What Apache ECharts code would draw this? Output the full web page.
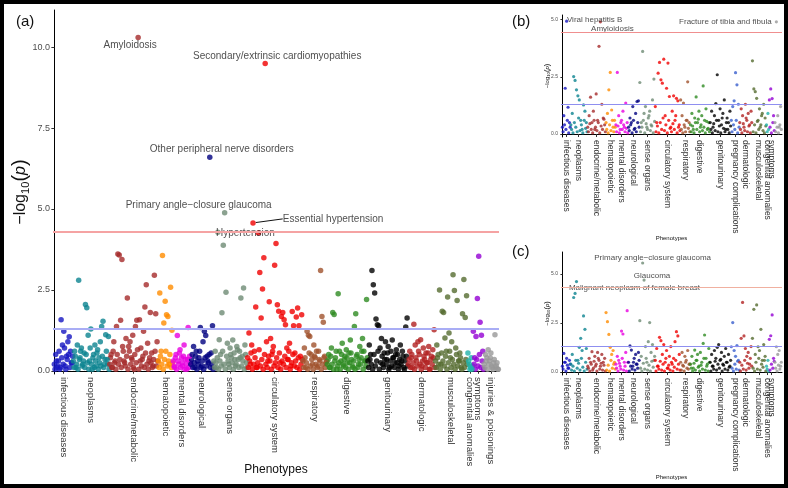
<!DOCTYPE html>
<html>
<head>
<meta charset="utf-8">
<script src="https://cdn.jsdelivr.net/npm/echarts@6/dist/echarts.min.js"></script>
<style>
  html, body { margin: 0; padding: 0; background: #fff; }
  #wrap { position: relative; width: 788px; height: 488px; }
  #chart { position: absolute; left: 0; top: 0; width: 788px; height: 488px; }
  #frame { position: absolute; left: 0; top: 0; width: 788px; height: 488px; box-sizing: border-box;
           border: 4px solid #000; pointer-events: none; }
</style>
</head>
<body>
<div id="wrap"><div id="chart"></div><div id="frame"></div></div>
<script>
const categories = ['infectious diseases', 'neoplasms', 'endocrine/metabolic', 'hematopoietic',
  'mental disorders', 'neurological', 'sense organs', 'circulatory system', 'respiratory',
  'digestive', 'genitourinary', 'pregnancy complications', 'dermatologic', 'musculoskeletal',
  'congenital anomalies', 'symptoms', 'injuries & poisonings'];
const catColors = ['#1515c0', '#0b8390', '#a52a2a', '#ff8c00', '#e800e0', '#000080', '#6e8b74',
  '#f00000', '#a0522d', '#2e8b22', '#000000', '#3a5fcd', '#b22222', '#556b2f', '#20b2aa',
  '#9400d3', '#999999'];

// panel (a): -log10(p) per phenotype, in plotting order within each category
const infA = [0.2, 0.5, 0.1, 0.3, 0.05, 1.58, 0.8, 1.22, 0.15, 0.45, 0.9, 1.05, 0.6, 0.25];
const neoA = [0.3, 0.6, 0.1, 0.8, 2.8, 0.4, 0.7, 0.2, 0.55, 2.05, 1.95, 1.1, 0.3, 1.29, 0.05, 0.5, 0.8, 0.15, 0.65, 0.4, 0.9, 1.37, 1.53, 0.2, 1.11, 0.35, 1.06];
const endoA = [0.2, 0.5, 0.1, 0.9, 0.3, 1.37, 3.61, 3.58, 1.56, 3.44, 0.6, 0.25, 1.0, 2.25, 0.75, 0.9, 0.4, 1.1, 0.05, 1.37, 1.56, 10.3, 1.58, 0.7, 0.35, 1.22, 1.97, 2.66, 0.85, 0.3, 1.8, 0.55, 0.15, 2.95, 1.76, 0.9];
const hemA = [0.3, 2.4, 0.6, 3.56, 1.48, 2.15, 1.73, 1.68, 0.2, 2.58, 1.25];
const menA = [0.3, 0.1, 0.5, 1.09, 0.2, 0.65, 0.4, 0.15, 0.8, 0.35, 0.05, 1.34, 0.45];
const neuA = [0.2, 0.5, 0.75, 0.1, 0.6, 0.3, 0.4, 1.34, 0.15, 0.9, 1.22, 1.09, 0.45, 0.25, 6.6, 0.55, 1.39];
const senA = [0.3, 0.6, 0.1, 4.28, 0.96, 0.5, 1.79, 3.88, 4.88, 2.43, 0.85, 0.2, 0.7, 0.4, 0.95, 0.55, 0.15, 0.75, 0.35, 0.6, 2.25, 0.45, 2.56, 0.8, 0.25];
const circA = [0.4, 1.17, 0.2, 0.8, 4.57, 0.6, 1.97, 0.1, 4.26, 3.04, 1.63, 2.53, 3.49, 9.5, 0.9, 0.3, 2.13, 1.0, 0.5, 0.75, 3.26, 3.93, 2.04, 1.84, 0.25, 1.68, 1.8, 1.58, 1.42, 0.7, 0.35, 0.85, 0.15, 1.83, 1.39, 0.55, 1.66, 1.94, 1.39, 0.45, 1.73];
const respA = [0.3, 0.7, 0.1, 1.22, 1.1, 1.06, 0.5, 0.2, 0.8, 0.4, 0.6, 0.15, 0.35, 3.1, 1.68, 1.5, 0.45, 0.25];
const digA = [0.2, 0.5, 0.1, 0.7, 1.8, 1.74, 0.4, 0.05, 2.38, 0.6, 0.3, 0.85, 0.15, 0.45, 0.65, 0.25, 0.55, 0.95, 0.35, 0.1, 1.37, 1.76, 0.5, 0.2, 0.75, 0.4, 1.0, 0.6, 0.3, 2.2];
const genA = [0.3, 0.8, 0.5, 3.1, 2.66, 2.4, 1.6, 1.42, 1.39, 0.7, 1.0, 0.2, 0.55, 0.9, 0.35, 0.75, 0.1, 0.6, 0.95, 0.4, 0.25, 0.65, 0.5, 0.15, 0.8, 0.3, 0.45, 0.05, 1.35, 1.63];
const pregA = [];
const dermA = [0.2, 0.6, 0.4, 0.1, 1.44, 0.8, 0.3, 0.9, 0.5, 0.96, 0.15, 0.7, 0.35, 0.55, 0.25, 0.75, 0.05, 0.45, 0.65, 1.27];
const muscA = [0.3, 0.8, 0.5, 2.5, 0.2, 1.84, 1.8, 1.01, 0.6, 2.28, 1.17, 0.4, 0.9, 2.97, 2.48, 0.7, 2.17, 0.3, 0.55, 0.1, 1.76, 2.82, 1.65, 2.32];
const congA = [0.55, 0.2, 0.1, 0.05];
const sympA = [1.22, 0.4, 1.06, 2.23, 3.54, 1.5, 1.1, 0.6];
const injA = [0.2, 0.5, 0.4, 0.65, 0.3, 0.55, 0.1, 0.25, 1.11, 0.15, 0.05];
// panel (a): the dense band of near-null phenotypes, sitting between the ones above
const infA2 = [0.05, 0.3, 0.15, 0.6, 0.1, 0.4, 0.2, 0.7, 0.05, 0.35, 0.5, 0.1, 0.25, 0.45];
const neoA2 = [0.1, 0.45, 0.2, 0.05, 0.35, 0.6, 0.15, 0.3, 0.1, 0.5, 0.25, 0.05, 0.7, 0.2, 0.4, 0.1, 0.3, 0.55, 0.05, 0.25, 0.15, 0.45, 0.1, 0.35, 0.6, 0.2, 0.05];
const endoA2 = [0.4, 0.1, 0.6, 0.25, 0.05, 0.5, 0.2, 0.35, 0.1, 0.75, 0.3, 0.15, 0.45, 0.05, 0.6, 0.2, 0.35, 0.1, 0.5, 0.25, 0.65, 0.05, 0.3, 0.15, 0.45, 0.1, 0.55, 0.2, 0.05, 0.4, 0.25, 0.1, 0.35, 0.6, 0.15, 0.3];
const hemA2 = [0.1, 0.45, 0.2, 0.05, 0.35, 0.6, 0.15, 0.3, 0.5, 0.1, 0.25];
const menA2 = [0.15, 0.4, 0.05, 0.3, 0.55, 0.1, 0.25, 0.45, 0.05, 0.2, 0.35, 0.1, 0.25];
const neuA2 = [0.35, 0.1, 0.25, 0.45, 0.05, 0.2, 0.6, 0.1, 0.3, 0.05, 0.4, 0.15, 0.3, 0.5, 0.1, 0.2, 0.05];
const senA2 = [0.1, 0.25, 0.4, 0.05, 0.3, 0.15, 0.6, 0.2, 0.05, 0.45, 0.3, 0.1, 0.5, 0.25, 0.05, 0.35, 0.2, 0.65, 0.1, 0.4, 0.15, 0.3, 0.05, 0.5, 0.1];
const circA2 = [0.1, 0.3, 0.55, 0.05, 0.2, 0.4, 0.1, 0.25, 0.65, 0.15, 0.35, 0.05, 0.5, 0.2, 0.1, 0.45, 0.3, 0.05, 0.6, 0.15, 0.25, 0.4, 0.1, 0.55, 0.05, 0.3, 0.2, 0.45, 0.1, 0.35, 0.6, 0.05, 0.25, 0.5, 0.15, 0.3, 0.1, 0.4, 0.05, 0.2, 0.35];
const respA2 = [0.1, 0.4, 0.25, 0.05, 0.55, 0.15, 0.35, 0.05, 0.45, 0.2, 0.1, 0.6, 0.3, 0.05, 0.2, 0.4, 0.1, 0.3];
const digA2 = [0.35, 0.1, 0.45, 0.2, 0.05, 0.3, 0.6, 0.15, 0.25, 0.05, 0.5, 0.2, 0.35, 0.1, 0.4, 0.05, 0.25, 0.55, 0.15, 0.3, 0.05, 0.45, 0.1, 0.35, 0.2, 0.6, 0.05, 0.3, 0.15, 0.4];
const genA2 = [0.1, 0.35, 0.2, 0.05, 0.5, 0.15, 0.3, 0.6, 0.05, 0.25, 0.45, 0.1, 0.35, 0.2, 0.55, 0.05, 0.3, 0.15, 0.4, 0.1, 0.5, 0.25, 0.05, 0.35, 0.2, 0.6, 0.1, 0.3, 0.45, 0.15];
const pregA2 = [];
const dermA2 = [0.35, 0.1, 0.5, 0.25, 0.05, 0.4, 0.15, 0.6, 0.2, 0.05, 0.3, 0.45, 0.1, 0.25, 0.55, 0.05, 0.35, 0.2, 0.4, 0.1];
const muscA2 = [0.1, 0.4, 0.2, 0.05, 0.55, 0.3, 0.15, 0.45, 0.05, 0.25, 0.6, 0.1, 0.35, 0.2, 0.05, 0.5, 0.15, 0.3, 0.4, 0.05, 0.25, 0.1, 0.35, 0.2];
const congA2 = [0.3, 0.05, 0.4, 0.15];
const sympA2 = [0.2, 0.05, 0.35, 0.15, 0.5, 0.1, 0.3, 0.05];
const injA2 = [0.1, 0.3, 0.05, 0.2, 0.4, 0.15, 0.05, 0.35, 0.1, 0.25, 0.05];

// panel (b)
const infB = [0.3, 0.8, 2.0, 4.93, 1.17, 0.5];
const neoB = [0.4, 0.9, 2.51, 2.34, 1.93, 1.67, 1.49, 0.6, 0.2, 1.27, 1.0, 0.5];
const endoB = [0.3, 0.8, 1.61, 0.5, 1.0, 0.2, 1.75, 0.6, 3.83, 4.9, 1.3, 0.7, 0.4];
const hemB = [0.5, 0.9, 1.93, 2.69, 1.05, 0.3, 0.6];
const menB = [0.4, 2.69, 0.8, 0.2, 0.6, 1.0, 0.3, 1.35, 0.5];
const neuB = [0.3, 0.7, 0.5, 1.2, 0.2, 0.9, 1.42, 1.45];
const senB = [2.25, 0.5, 3.61, 0.9, 1.2, 0.3, 0.7, 1.0, 0.4, 1.49, 2.4];
const circB = [1.2, 0.5, 2.66, 3.13, 2.37, 2.22, 3.27, 0.8, 2.0, 3.1, 1.64, 0.3, 1.0, 1.67, 0.6, 1.56, 1.45, 0.4];
const respB = [1.49, 0.8, 1.35, 0.3, 0.6, 2.28, 0.5];
const digB = [0.4, 0.9, 0.2, 0.7, 1.62, 0.5, 1.0, 0.3, 0.8, 2.1, 0.6, 1.1, 0.2, 0.5];
const genB = [0.5, 1.0, 0.3, 0.8, 1.33, 2.59, 0.6, 1.1, 0.4, 0.9, 1.49, 0.2, 0.7, 0.5, 1.0];
const pregB = [0.6, 1.2, 1.45, 2.68, 2.15, 1.3];
const dermB = [0.5, 1.1, 0.8, 0.3, 1.3, 0.6, 0.9, 0.4, 1.0];
const muscB = [3.2, 1.97, 1.85, 1.56, 0.6, 1.1, 0.4, 0.9, 1.3, 0.7];
const congB = [0.4, 0.9];
const sympB = [1.49, 1.97, 1.55, 0.8];
const injB = [0.5, 4.9, 0.8, 0.3, 1.2];
const infB2 = [0.1, 0.4, 0.2, 0.6, 0.05, 0.3];
const neoB2 = [0.2, 0.05, 0.5, 0.3, 0.1, 0.7, 0.15, 0.4, 0.05, 0.6, 0.25, 0.1];
const endoB2 = [0.1, 0.45, 0.2, 0.05, 0.6, 0.3, 0.15, 0.5, 0.05, 0.35, 0.2, 0.65, 0.1];
const hemB2 = [0.2, 0.05, 0.4, 0.15, 0.6, 0.1, 0.3];
const menB2 = [0.1, 0.35, 0.05, 0.5, 0.2, 0.4, 0.1, 0.25, 0.05];
const neuB2 = [0.15, 0.4, 0.05, 0.6, 0.25, 0.1, 0.5, 0.3];
const senB2 = [0.1, 0.3, 0.6, 0.05, 0.45, 0.2, 0.8, 0.15, 0.35, 0.05, 0.55];
const circB2 = [0.1, 0.35, 0.05, 0.5, 0.2, 0.7, 0.15, 0.4, 0.05, 0.6, 0.25, 0.1, 0.45, 0.2, 0.8, 0.05, 0.3, 0.15];
const respB2 = [0.2, 0.05, 0.4, 0.1, 0.6, 0.25, 0.1];
const digB2 = [0.1, 0.35, 0.05, 0.5, 0.2, 0.65, 0.1, 0.4, 0.15, 0.3, 0.05, 0.55, 0.25, 0.1];
const genB2 = [0.2, 0.05, 0.45, 0.15, 0.6, 0.1, 0.35, 0.05, 0.7, 0.25, 0.1, 0.5, 0.2, 0.05, 0.35];
const pregB2 = [0.1, 0.4, 0.2, 0.6, 0.05, 0.3];
const dermB2 = [0.2, 0.05, 0.45, 0.15, 0.7, 0.1, 0.35, 0.05, 0.5];
const muscB2 = [0.1, 0.4, 0.05, 0.55, 0.2, 0.3, 0.8, 0.15, 0.05, 0.35];
const congB2 = [0.1, 0.2];
const sympB2 = [0.3, 0.05, 0.5, 0.15];
const injB2 = [0.1, 0.3, 0.05, 0.4, 0.2];

// panel (c)
const infC = [0.3, 0.95, 0.5, 0.7, 0.2, 0.6];
const neoC = [0.4, 0.9, 3.8, 4.01, 4.61, 0.6, 1.26, 1.72, 1.1, 2.86, 2.18, 1.2];
const endoC = [0.3, 0.7, 0.5, 1.04, 0.2, 0.8, 0.4, 1.0, 0.6, 0.3, 0.9, 0.5, 0.7];
const hemC = [3.03, 2.57, 1.92, 1.26, 0.9, 1.1, 0.5];
const menC = [0.4, 0.8, 0.6, 0.3, 2.09, 1.94, 0.5, 1.0, 3.13];
const neuC = [0.5, 1.33, 1.12, 0.3, 0.7, 0.9, 0.4, 1.0];
const senC = [2.62, 0.8, 5.56, 4.69, 1.3, 0.5, 1.55, 2.52, 1.0, 1.4, 0.6];
const circC = [0.6, 1.2, 0.3, 1.77, 1.6, 0.9, 1.4, 0.5, 1.1, 0.2, 0.8, 1.3, 0.4, 0.7, 1.55, 2.06, 1.84, 0.9];
const respC = [0.5, 1.0, 0.3, 0.8, 0.6, 1.1, 0.4];
const digC = [0.4, 0.8, 0.2, 1.12, 0.6, 0.9, 0.3, 1.0, 0.5, 1.46, 1.89, 0.7, 0.4, 1.2];
const genC = [0.5, 0.9, 0.3, 1.1, 0.7, 1.26, 1.4, 0.6, 1.0, 0.4, 0.8, 1.2, 0.5, 0.9, 0.3];
const pregC = [1.29, 2.52, 1.1, 0.8, 1.35, 0.6];
const dermC = [0.5, 1.72, 3.55, 1.84, 1.2, 0.8, 1.0, 0.4, 1.3];
const muscC = [1.72, 3.2, 0.9, 3.42, 1.29, 1.1, 2.18, 0.6, 1.4, 0.8];
const congC = [0.3, 0.6];
const sympC = [1.67, 1.85, 2.91, 0.7];
const injC = [0.5, 1.29, 0.9, 1.1, 0.3];
const infC2 = [0.15, 0.5, 0.05, 0.35, 0.2, 0.4];
const neoC2 = [0.1, 0.3, 0.05, 0.6, 0.2, 0.45, 0.1, 0.7, 0.25, 0.05, 0.5, 0.15];
const endoC2 = [0.2, 0.05, 0.4, 0.1, 0.55, 0.3, 0.05, 0.7, 0.15, 0.45, 0.1, 0.35, 0.05];
const hemC2 = [0.1, 0.35, 0.05, 0.6, 0.2, 0.4, 0.15];
const menC2 = [0.2, 0.05, 0.45, 0.15, 0.7, 0.1, 0.3, 0.05, 0.5];
const neuC2 = [0.05, 0.3, 0.15, 0.5, 0.1, 0.4, 0.2, 0.6];
const senC2 = [0.2, 0.05, 0.45, 0.15, 0.7, 0.1, 0.35, 0.05, 0.55, 0.25, 0.8];
const circC2 = [0.05, 0.3, 0.15, 0.55, 0.1, 0.4, 0.05, 0.7, 0.2, 0.35, 0.1, 0.5, 0.05, 0.25, 0.6, 0.15, 0.4, 0.1];
const respC2 = [0.1, 0.35, 0.05, 0.5, 0.2, 0.15, 0.4];
const digC2 = [0.2, 0.05, 0.45, 0.1, 0.6, 0.25, 0.05, 0.35, 0.15, 0.7, 0.1, 0.3, 0.05, 0.5];
const genC2 = [0.05, 0.3, 0.15, 0.55, 0.1, 0.4, 0.2, 0.65, 0.05, 0.35, 0.15, 0.5, 0.1, 0.25, 0.6];
const pregC2 = [0.2, 0.05, 0.4, 0.15, 0.55, 0.1];
const dermC2 = [0.05, 0.35, 0.15, 0.6, 0.1, 0.45, 0.2, 0.7, 0.3];
const muscC2 = [0.2, 0.05, 0.5, 0.15, 0.7, 0.1, 0.4, 0.25, 0.6, 0.05];
const congC2 = [0.15, 0.05];
const sympC2 = [0.1, 0.4, 0.2, 0.55];
const injC2 = [0.2, 0.05, 0.35, 0.15, 0.5];

// significance lines (bonferroni, p = 0.05)
const thresholdsA = [4.3, 1.3];
const thresholdsB = [4.43, 1.3];
const thresholdsC = [4.3, 1.33];
const yTicksA = [0, 2.5, 5, 7.5, 10];
const yTicksBC = [0, 2.5, 5];

const panelA = [infA, neoA, endoA, hemA, menA, neuA, senA, circA, respA, digA, genA, pregA, dermA, muscA, congA, sympA, injA];
const lowA = [infA2, neoA2, endoA2, hemA2, menA2, neuA2, senA2, circA2, respA2, digA2, genA2, pregA2, dermA2, muscA2, congA2, sympA2, injA2];
const panelB = [infB, neoB, endoB, hemB, menB, neuB, senB, circB, respB, digB, genB, pregB, dermB, muscB, congB, sympB, injB];
const lowB = [infB2, neoB2, endoB2, hemB2, menB2, neuB2, senB2, circB2, respB2, digB2, genB2, pregB2, dermB2, muscB2, congB2, sympB2, injB2];
const panelC = [infC, neoC, endoC, hemC, menC, neuC, senC, circC, respC, digC, genC, pregC, dermC, muscC, congC, sympC, injC];
const lowC = [infC2, neoC2, endoC2, hemC2, menC2, neuC2, senC2, circC2, respC2, digC2, genC2, pregC2, dermC2, muscC2, congC2, sympC2, injC2];

const labelsA = [
  {cat: 2, i: 21, text: 'Amyloidosis', dx: -8, dy: 8},
  {cat: 7, i: 13, text: 'Secondary/extrinsic cardiomyopathies', dx: 12, dy: -7},
  {cat: 5, i: 14, text: 'Other peripheral nerve disorders', dx: 12, dy: -8},
  {cat: 6, i: 8, text: 'Primary angle\u2212closure glaucoma', dx: -26, dy: -8},
  {cat: 7, i: 8, text: 'Hypertension', dx: -13, dy: 0},
  {cat: 7, i: 4, text: 'Essential hypertension', dx: 80, dy: -4, line: true},
];
const labelsB = [
  {cat: 0, i: 3, text: 'Viral hepatitis B', dx: 28, dy: -1},
  {cat: 2, i: 9, text: 'Amyloidosis', dx: 12, dy: 7},
  {cat: 16, i: 1, text: 'Fracture of tibia and fibula', dx: -51, dy: 0},
];
const labelsC = [
  {cat: 6, i: 2, text: 'Primary angle\u2212closure glaucoma', dx: 10, dy: -5},
  {cat: 6, i: 3, text: 'Glaucoma', dx: 8, dy: -4},
  {cat: 1, i: 4, text: 'Malignant neoplasm of female breast', dx: 58, dy: 6},
];

function buildPanel(values, lows, labels, labelSize) {
  const data = [];
  const centers = [];
  const moves = {};
  // near-null band first so the named points draw over it
  let idx = 0;
  values.forEach((vals, c) => {
    (lows[c] || []).forEach((v, i) => {
      data.push({value: [idx + i + 0.5, v], itemStyle: {color: catColors[c]}});
    });
    idx += vals.length;
  });
  idx = 0;
  values.forEach((vals, c) => {
    if (!vals.length) return;
    centers.push({pos: idx + (vals.length - 1) / 2, name: categories[c]});
    vals.forEach((v, i) => {
      const item = {value: [idx + i, v], itemStyle: {color: catColors[c]}};
      const lab = labels.find((l) => l.cat === c && l.i === i);
      if (lab) {
        item.label = {show: true, formatter: lab.text, position: 'inside', fontSize: labelSize, color: '#222'};
        item.labelLine = {show: !!lab.line, lineStyle: {color: '#111', width: 1}};
        moves[data.length] = lab;
      }
      data.push(item);
    });
    idx += vals.length;
  });
  return {data, centers, moves, total: idx};
}

const pA = buildPanel(panelA, lowA, labelsA, 10);
const pB = buildPanel(panelB, lowB, labelsB, 8);
const pC = buildPanel(panelC, lowC, labelsC, 8);

const font = '"Liberation Sans", Arial, Helvetica, sans-serif';

function xAxisFor(p, k, opt) {
  const pos = p.centers.map((c) => c.pos);
  return {
    type: 'value', gridIndex: k, min: -1, max: p.total,
    splitLine: {show: false},
    axisLine: {lineStyle: {color: '#000', width: 1}},
    axisTick: {show: true, customValues: pos, length: 3, lineStyle: {color: '#333'}},
    axisLabel: {
      customValues: pos, rotate: -90, fontSize: opt.fs, color: '#333', margin: 3, fontFamily: font,
      formatter: (v) => {
        const c = p.centers.find((o) => Math.abs(o.pos - v) < 1e-6);
        return c ? c.name : '';
      },
    },
    name: 'Phenotypes', nameLocation: 'middle', nameGap: opt.gap, nameMoveOverlap: false,
    nameTextStyle: {fontSize: opt.nameFs, color: '#111', fontFamily: font},
  };
}

function yAxisFor(k, min, max, ticks, opt) {
  return {
    type: 'value', gridIndex: k, min, max,
    splitLine: {show: false},
    axisLine: {show: true, lineStyle: {color: '#000', width: 1}},
    axisTick: {show: true, customValues: ticks, length: opt.tick, lineStyle: {color: '#333'}},
    axisLabel: {customValues: ticks, formatter: (v) => v.toFixed(1), fontSize: opt.fs, color: '#4d4d4d', margin: 3, fontFamily: font},
    name: '{t|\u2212log}{s|10}{b|(}{p|p}{b|)}', nameLocation: 'middle', nameGap: opt.gap, nameRotate: 90,
    nameMoveOverlap: false,
    nameTextStyle: {
      fontFamily: font, color: '#111',
      rich: {
        t: {fontSize: opt.nfs, fontFamily: font, color: '#111'},
        s: {fontSize: opt.nfs * 0.7, fontFamily: font, color: '#111', padding: [opt.nfs * 0.6, 0, 0, 0]},
        b: {fontSize: opt.nfs * 1.25, fontFamily: font, color: '#111'},
        p: {fontSize: opt.nfs, fontFamily: font, fontStyle: 'italic', color: '#111'},
      },
    },
  };
}

function seriesFor(p, k, size, th, lw, colors) {
  return {
    type: 'scatter', xAxisIndex: k, yAxisIndex: k, symbolSize: size,
    data: p.data,
    label: {show: false, fontFamily: font},
    labelLayout: (params) => {
      const m = p.moves[params.dataIndex];
      return m ? {dx: m.dx, dy: m.dy} : {};
    },
    markLine: {
      silent: true, symbol: 'none', label: {show: false},
      data: [
        {yAxis: th[0], lineStyle: {color: colors[0], width: lw, type: 'solid'}},
        {yAxis: th[1], lineStyle: {color: colors[1], width: lw, type: 'solid'}},
      ],
    },
  };
}

const chart = echarts.init(document.getElementById('chart'), null, {renderer: 'canvas'});
chart.setOption({
  animation: false,
  textStyle: {fontFamily: font},
  grid: [
    {left: 53, top: 10, width: 446, height: 364, containLabel: false, outerBoundsMode: 'none'},
    {left: 561, top: 15, width: 221, height: 122, containLabel: false, outerBoundsMode: 'none'},
    {left: 561, top: 252, width: 221, height: 123, containLabel: false, outerBoundsMode: 'none'},
  ],
  xAxis: [
    xAxisFor(pA, 0, {fs: 9.5, gap: 90, nameFs: 12}),
    xAxisFor(pB, 1, {fs: 8.5, gap: 98, nameFs: 6}),
    xAxisFor(pC, 2, {fs: 8.5, gap: 99, nameFs: 6}),
  ],
  yAxis: [
    yAxisFor(0, -0.1, 11.15, yTicksA, {fs: 9, tick: 3, gap: 22, nfs: 16}),
    yAxisFor(1, -0.13, 5.2, yTicksBC, {fs: 5, tick: 2, gap: 10, nfs: 6}),
    yAxisFor(2, -0.15, 6.12, yTicksBC, {fs: 5, tick: 2, gap: 10, nfs: 6}),
  ],
  series: [
    seriesFor(pA, 0, 5.5, thresholdsA, 2, ['#f5a3a3', '#a9adf5']),
    seriesFor(pB, 1, 3.2, thresholdsB, 1, ['#f08f8f', '#8f8ff0']),
    seriesFor(pC, 2, 3.2, thresholdsC, 1, ['#f0b0a0', '#8f8ff0']),
  ],
  graphic: [
    {type: 'text', left: 16, top: 14, style: {text: '(a)', fontSize: 15, fill: '#111', fontFamily: font}},
    {type: 'text', left: 512, top: 14, style: {text: '(b)', fontSize: 15, fill: '#111', fontFamily: font}},
    {type: 'text', left: 512, top: 244, style: {text: '(c)', fontSize: 15, fill: '#111', fontFamily: font}},
  ],
});
</script>
</body>
</html>
